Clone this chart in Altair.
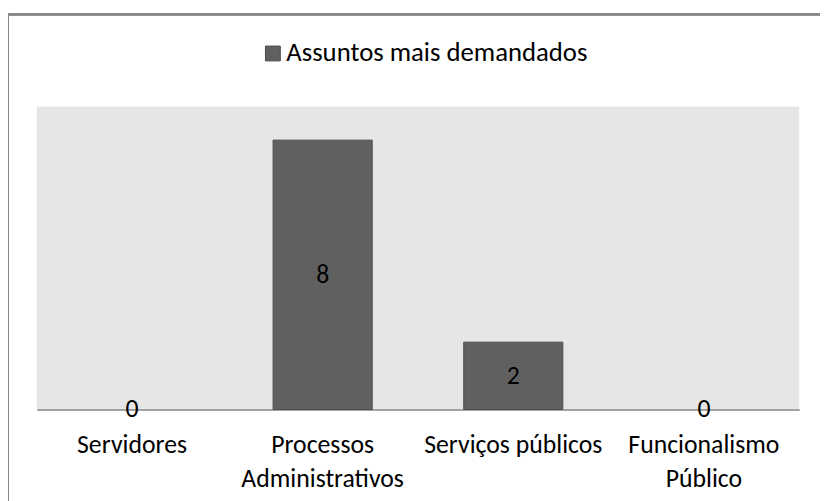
import altair as alt
import pandas as pd

categories = ["Servidores", "Processos Administrativos", "Serviços públicos", "Funcionalismo Público"]
values = [0, 8, 2, 0]
series_name = "Assuntos mais demandados"
label_lines = {
    "Processos Administrativos": ["Processos", "Administrativos"],
    "Funcionalismo Público": ["Funcionalismo", "Público"],
}

df = pd.DataFrame({"categoria": categories, "valor": values, "serie": series_name})

FONT = "Carlito, Liberation Sans, Arial, sans-serif"

expr_parts = []
for k, v in label_lines.items():
    arr = "[" + ",".join("'" + s + "'" for s in v) + "]"
    expr_parts.append(f"datum.label == '{k}' ? {arr} : ")
label_expr = "".join(expr_parts) + "datum.label"

W, H = 770, 306

x_enc = alt.X(
    "categoria:N",
    sort=categories,
    scale=alt.Scale(paddingInner=0.48, paddingOuter=0.24),
    axis=alt.Axis(
        title=None,
        labelAngle=0,
        ticks=False,
        domainColor="#868686",
        domainWidth=1.5,
        labelFont=FONT,
        labelFontSize=26,
        labelColor="#000000",
        labelPadding=22,
        labelLineHeight=35,
        labelExpr=label_expr,
        labelLimit=300,
    ),
)
y_scale = alt.Scale(domain=[0, 9], nice=False)

bars = alt.Chart(df).mark_bar(stroke="#4d4d4d", strokeWidth=1).encode(
    x=x_enc,
    y=alt.Y("valor:Q", scale=y_scale, axis=None),
    strokeOpacity=alt.condition("datum.valor > 0", alt.value(1), alt.value(0)),
    color=alt.Color(
        "serie:N",
        scale=alt.Scale(range=["#606060"]),
        legend=alt.Legend(
            title=None,
            orient="none",
            legendX=225,
            legendY=-67,
            symbolType="square",
            symbolSize=225,
            symbolStrokeColor="#4d4d4d",
            symbolStrokeWidth=1,
            labelFont=FONT,
            labelFontSize=27,
            labelColor="#000000",
            labelOffset=0,
            labelLimit=500,
            padding=0,
        ),
    ),
)

text = alt.Chart(df).transform_calculate(mid="datum.valor / 2").mark_text(
    font=FONT, fontSize=26, color="#000000", baseline="middle", align="center"
).encode(
    x=alt.X("categoria:N", sort=categories),
    y=alt.Y("mid:Q", scale=y_scale),
    text=alt.Text("valor:Q"),
)

border = alt.Chart(df).mark_rect(
    fill=None, stroke="#888888", strokeWidth=2.5
).encode(
    x=alt.value(-29.5), x2=alt.value(900), y=alt.value(-93), y2=alt.value(700)
)

chart = alt.layer(border, bars, text).properties(
    width=W,
    height=H,
    autosize=alt.AutoSizeParams(type="none"),
    padding={"left": 29, "top": 97, "right": 21, "bottom": 90},
    background="#ffffff",
).configure_view(fill="#e6e6e6", stroke=None)

chart.save("out.html", embed_options={"renderer": "svg", "actions": False})
